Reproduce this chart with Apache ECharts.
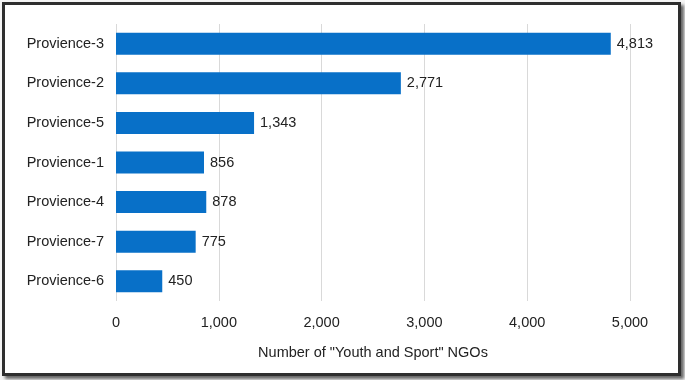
<!DOCTYPE html>
<html>
<head>
<meta charset="utf-8">
<script src="https://cdn.jsdelivr.net/npm/echarts@6/dist/echarts.min.js"></script>
<style>
  html, body { margin: 0; padding: 0; background: #f4f4f4; }
  #frame {
    position: absolute; left: 2px; top: 2px; width: 673px; height: 368px;
    border: 3px solid #2e2e2e; background: #fff;
    box-shadow: 3px 3px 3px #666;
  }
  #chart { position: absolute; left: -5px; top: -5px; width: 685px; height: 380px; }
</style>
</head>
<body>
<div id="frame"><div id="chart"></div></div>
<script>
// provinces, top to bottom as shown
var provinces = ["Provience-3", "Provience-2", "Provience-5", "Provience-1", "Provience-4", "Provience-7", "Provience-6"];
var ngoCounts = [4813, 2771, 1343, 856, 878, 775, 450];
var xTicks = [0, 1000, 2000, 3000, 4000, 5000];

var chart = echarts.init(document.getElementById("chart"));
var fnt = "Liberation Sans, Arial, sans-serif";

chart.setOption({
  animation: false,
  grid: { left: 116, right: 55, top: 24, bottom: 79 },
  xAxis: {
    type: "value",
    min: xTicks[0],
    max: xTicks[xTicks.length - 1],
    interval: 1000,
    name: 'Number of "Youth and Sport" NGOs',
    nameLocation: "middle",
    nameGap: 44,
    nameTextStyle: { fontFamily: fnt, fontSize: 14.5, color: "#222" },
    axisLine: { show: false },
    axisTick: { show: false },
    axisLabel: {
      fontFamily: fnt, fontSize: 14.5, color: "#222", margin: 14,
      formatter: function (v) { return v.toLocaleString("en-US"); }
    },
    splitLine: { lineStyle: { color: "#d9d9d9", width: 1 } }
  },
  yAxis: {
    type: "category",
    data: provinces,
    inverse: true,
    axisLine: { show: false },
    axisTick: { show: false },
    axisLabel: { fontFamily: fnt, fontSize: 14.5, color: "#222", margin: 12 }
  },
  series: [{
    type: "bar",
    data: ngoCounts,
    barWidth: 22,
    itemStyle: { color: "#0870c8" },
    label: {
      show: true, position: "right", distance: 6,
      fontFamily: fnt, fontSize: 14.5, color: "#222",
      formatter: function (p) { return p.value.toLocaleString("en-US"); }
    }
  }]
});
</script>
</body>
</html>
